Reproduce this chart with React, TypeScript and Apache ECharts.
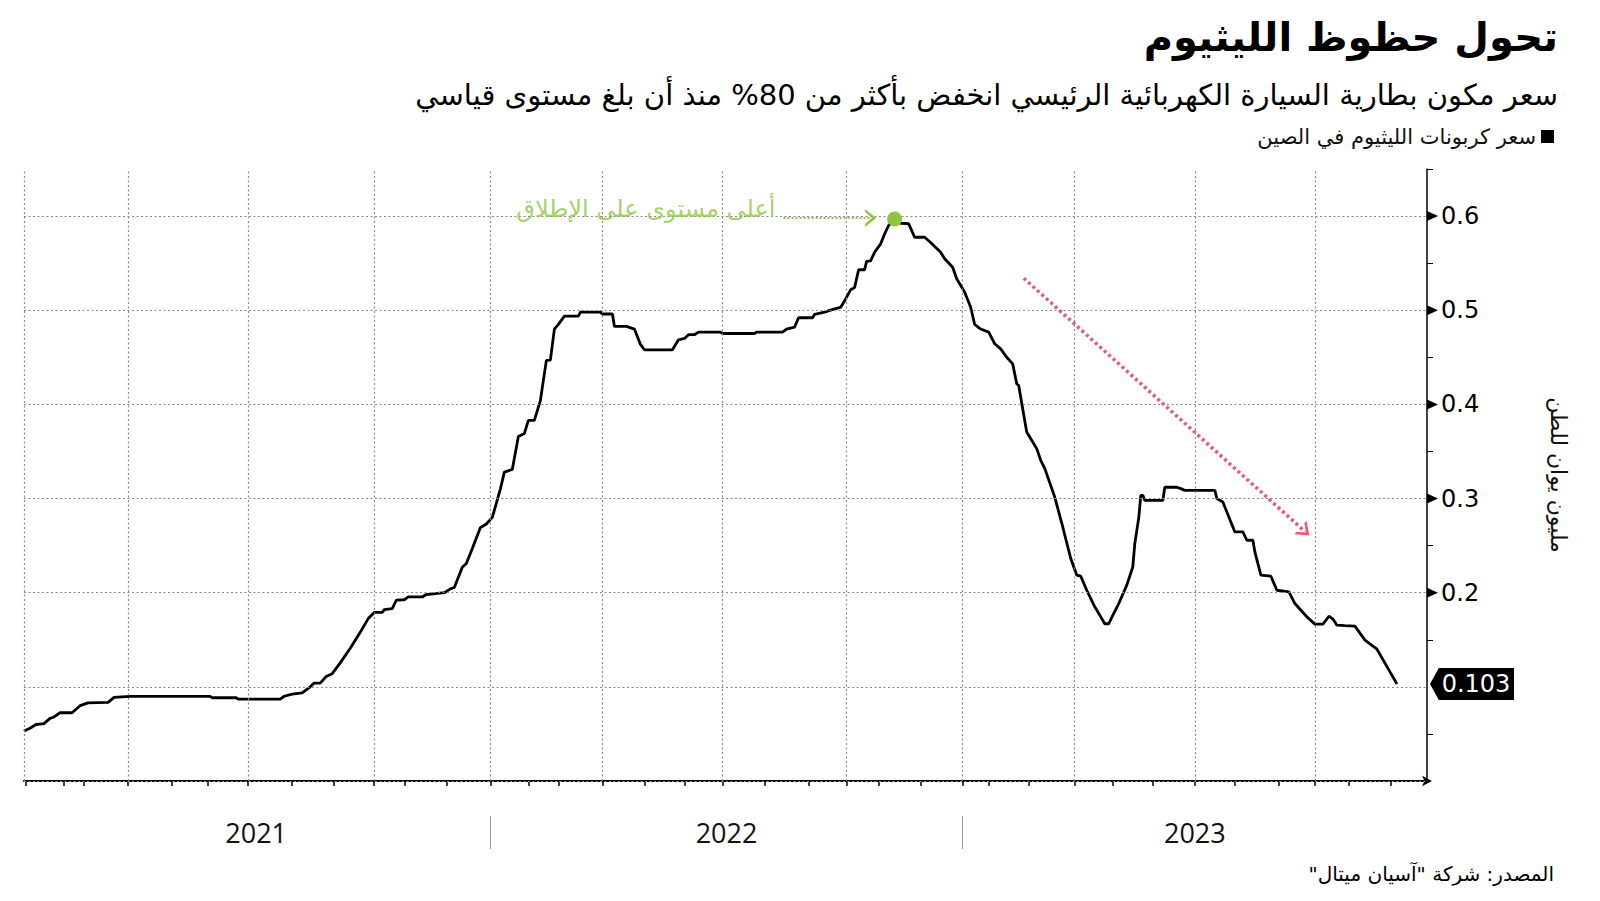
import React, { useEffect, useRef } from 'react';
import * as echarts from 'echarts';

const TITLE = 'تحول حظوظ الليثيوم';
const SUBTITLE = 'سعر مكون بطارية السيارة الكهربائية الرئيسي انخفض بأكثر من 80% منذ أن بلغ مستوى قياسي';
const SERIES_NAME = 'سعر كربونات الليثيوم في الصين';
const Y_NAME = 'مليون يوان للطن';
const SOURCE = 'المصدر: شركة "آسيان ميتال"\u200F';
const PEAK_NOTE = 'أعلى مستوى على الإطلاق';

// x = trading-session index (Jan 2021 .. Dec 2023)
const sessions = [0, 3, 6, 10, 13, 15, 18, 24, 28, 32, 42, 45, 53, 93, 94, 106, 107, 128, 130, 134, 139, 143, 145, 148, 151, 154, 158, 163, 168, 172, 175, 179, 180, 184, 186, 190, 192, 199, 201, 210, 213, 215, 219, 221, 224, 228, 231, 234, 238, 240, 244, 247, 250, 252, 255, 258, 261, 263, 265, 267, 270, 277, 278, 288, 289, 294, 295, 301, 305, 308, 310, 324, 327, 330, 332, 335, 337, 348, 349, 365, 366, 379, 381, 385, 387, 394, 395, 400, 405, 408, 410, 413, 415, 417, 420, 421, 423, 425, 428, 430, 432, 435, 438, 442, 445, 450, 453, 458, 460, 464, 466, 469, 470, 473, 475, 478, 482, 485, 488, 491, 494, 496, 497, 500, 501, 504, 506, 508, 510, 515, 519, 523, 526, 528, 531, 535, 538, 540, 542, 544, 547, 551, 554, 555, 557, 558, 559, 560, 569, 570, 576, 578, 580, 595, 596, 599, 601, 605, 609, 611, 614, 615, 618, 623, 626, 632, 635, 638, 641, 645, 649, 652, 654, 656, 660, 665, 670, 676, 682, 686];
const prices = [0.053, 0.056, 0.060, 0.061, 0.0665, 0.068, 0.0725, 0.0725, 0.080, 0.083, 0.0835, 0.0888, 0.0898, 0.0898, 0.0884, 0.0884, 0.087, 0.087, 0.090, 0.0923, 0.0937, 0.100, 0.104, 0.104, 0.111, 0.114, 0.1255, 0.141, 0.158, 0.1725, 0.179, 0.179, 0.182, 0.183, 0.192, 0.1925, 0.1955, 0.1955, 0.198, 0.200, 0.204, 0.2055, 0.227, 0.231, 0.247, 0.269, 0.273, 0.280, 0.31, 0.328, 0.331, 0.366, 0.369, 0.383, 0.383, 0.404, 0.4467, 0.447, 0.480, 0.485, 0.4937, 0.4937, 0.498, 0.498, 0.496, 0.496, 0.4828, 0.4828, 0.480, 0.4637, 0.458, 0.458, 0.4686, 0.470, 0.474, 0.474, 0.4767, 0.4767, 0.4753, 0.4753, 0.4767, 0.4767, 0.480, 0.482, 0.492, 0.492, 0.4955, 0.498, 0.5015, 0.503, 0.510, 0.5217, 0.524, 0.543, 0.543, 0.552, 0.5525, 0.5616, 0.5705, 0.581, 0.590, 0.597, 0.5924, 0.592, 0.5775, 0.5775, 0.572, 0.5616, 0.5546, 0.5457, 0.5334, 0.5228, 0.519, 0.5032, 0.4849, 0.480, 0.4767, 0.4644, 0.459, 0.450, 0.443, 0.422, 0.420, 0.383, 0.3706, 0.360, 0.353, 0.3406, 0.332, 0.3016, 0.2698, 0.2363, 0.2186, 0.2175, 0.2026, 0.185, 0.1743, 0.167, 0.167, 0.176, 0.1885, 0.208, 0.2273, 0.252, 0.280, 0.3034, 0.3034, 0.298, 0.298, 0.312, 0.312, 0.3105, 0.3087, 0.3087, 0.300, 0.2964, 0.2857, 0.2645, 0.2645, 0.2557, 0.2557, 0.2433, 0.2186, 0.2175, 0.2026, 0.2008, 0.1885, 0.1814, 0.1743, 0.1666, 0.1666, 0.175, 0.172, 0.1655, 0.165, 0.1645, 0.1496, 0.140, 0.1178, 0.103];

const monthStartSessions = [1, 20, 30, 52, 74, 92, 112, 134, 155, 175, 190, 211, 233, 252, 267, 289, 310, 330, 349, 370, 392, 411, 427, 448, 469, 482, 502, 525, 544, 564, 585, 605, 627, 645, 662, 683];
const quarterGridSessions = [0, 52, 112, 175, 233, 289, 349, 411, 469, 525, 585, 645];
const years = ['2021', '2022', '2023'];
const yearMidSessions = [116, 351, 585];
const yearBoundarySessions = [233, 469];
const X_MAX = 701;
const Y_MAX = 0.65;
const yLabelValues = [0.2, 0.3, 0.4, 0.5, 0.6];
const yGridValues = [0, 0.1, 0.2, 0.3, 0.4, 0.5, 0.6];
const yMinorTickValues = [0.05, 0.15, 0.25, 0.35, 0.45, 0.55, 0.65];
const yArrowTickValues = [0.2, 0.3, 0.4, 0.5, 0.6];

const peakSession = 435;
const peakValue = 0.597;
const peakArrowFrom = [379.5, 0.598];
const peakArrowTo = [423, 0.598];
const trendArrowFrom = [499.5, 0.534];
const trendArrowTo = [640, 0.265];

const AR = "'DejaVu Sans', sans-serif";
const GREEN = '#8cc63f';
const PINK = '#f0567a';
const CHEVRON = 'path://M0,12 L10,0 L20,12 L16.5,12 L10,4.5 L3.5,12 Z';

export default function App() {
  const ref = useRef<HTMLDivElement>(null);
  useEffect(() => {
    if (!ref.current) return;
    const chart = echarts.init(ref.current, undefined, { renderer: 'svg' });
    const lineData = sessions.map((s, i) => [s, prices[i]]);
    const lastValue = prices[prices.length - 1];
    const option: any = {
      animation: false,
      backgroundColor: '#ffffff',
      title: [
        { text: TITLE, right: 42, top: 17, padding: 0, textStyle: { fontFamily: AR, fontSize: 40, fontWeight: 'bold', color: '#000' } },
        { text: SUBTITLE, right: 42, top: 80, padding: 0, textStyle: { fontFamily: AR, fontSize: 29, fontWeight: 'normal', color: '#000' } },
        { text: SOURCE, right: 46, top: 864, padding: 0, textStyle: { fontFamily: AR, fontSize: 20, fontWeight: 'normal', color: '#000' } },
      ],
      legend: {
        data: [SERIES_NAME], right: 46, top: 126, padding: 0, align: 'right', icon: 'rect', itemWidth: 13, itemHeight: 13,
        textStyle: { fontFamily: AR, fontSize: 21, color: '#111' }, selectedMode: false,
      },
      grid: { left: 24, right: 173, top: 169, bottom: 120, containLabel: false, outerBoundsMode: 'none' },
      xAxis: [
        {
          type: 'value', min: 0, max: X_MAX, position: 'bottom',
          axisLine: { show: true, onZero: false, lineStyle: { color: '#000', width: 2 }, symbol: ['none', 'arrow'], symbolSize: [8, 10], symbolOffset: [0, 5] },
          axisTick: { show: true, customValues: monthStartSessions, length: 5, lineStyle: { color: '#000', width: 1.5 } },
          axisLabel: {
            show: true, customValues: yearMidSessions, margin: 38, fontSize: 27, fontFamily: "'Open Sans', sans-serif", color: '#111',
            formatter: (v: number) => { const i = yearMidSessions.indexOf(v); return i >= 0 ? years[i] : ''; },
          },
          splitLine: { show: false },
        },
        {
          type: 'value', min: 0, max: X_MAX, position: 'bottom', offset: 35,
          axisLine: { show: false, onZero: false },
          axisTick: { show: true, customValues: yearBoundarySessions, length: 33, lineStyle: { color: '#999', width: 1 } },
          axisLabel: { show: false },
          splitLine: { show: false },
        },
      ],
      yAxis: {
        type: 'value', position: 'right', min: 0, max: Y_MAX, interval: 0.1,
        name: Y_NAME, nameLocation: 'middle', nameRotate: -90, nameGap: 120,
        nameTextStyle: { fontFamily: AR, fontSize: 22, color: '#111' },
        axisLine: { show: true, onZero: false, lineStyle: { color: '#000', width: 1.5 } },
        axisTick: { show: true, customValues: yMinorTickValues, length: 6, lineStyle: { color: '#000', width: 1 } },
        axisLabel: {
          show: true, customValues: yLabelValues, margin: 14, fontSize: 24, fontFamily: "'DejaVu Sans', sans-serif", color: '#000',
          formatter: (v: number) => v.toFixed(1),
        },
        splitLine: { show: false },
      },
      series: [
        {
          name: 'grid', type: 'line', data: [], silent: true, z: 1,
          markLine: {
            silent: true, symbol: ['none', 'none'], label: { show: false },
            lineStyle: { color: '#8a8a8a', width: 1.2, type: [2, 2.5] },
            data: [
              ...quarterGridSessions.map((s) => ({ xAxis: s })),
              ...yGridValues.map((v) => ({ yAxis: v })),
            ],
          },
        },
        {
          name: SERIES_NAME, type: 'line', data: lineData, showSymbol: false, symbol: 'none',
          lineStyle: { color: '#000', width: 2.8 }, itemStyle: { color: '#000' }, z: 3,
        },
        {
          name: 'peakArrow', type: 'line', data: [], silent: true, z: 4,
          markLine: {
            silent: true, symbol: ['none', CHEVRON], symbolSize: [18, 11], label: { show: false },
            lineStyle: { color: GREEN, width: 2, type: [2, 2] },
            data: [[{ coord: peakArrowFrom }, { coord: peakArrowTo }]],
          },
        },
        {
          name: 'trendArrow', type: 'line', data: [], silent: true, z: 4,
          markLine: {
            silent: true, symbol: ['none', CHEVRON], symbolSize: [18, 12], label: { show: false },
            lineStyle: { color: PINK, width: 3.5, type: [3, 3] },
            data: [[{ coord: trendArrowFrom }, { coord: trendArrowTo }]],
          },
        },
        {
          name: 'peak', type: 'scatter', data: [[peakSession, peakValue]], symbolSize: 15,
          itemStyle: { color: GREEN, opacity: 1 }, z: 5, silent: true,
        },
        {
          name: 'peakNote', type: 'scatter', data: [peakArrowFrom], symbolSize: 0.1,
          itemStyle: { color: 'rgba(0,0,0,0)' }, z: 5, silent: true,
          label: { show: true, position: 'left', distance: 8, formatter: PEAK_NOTE, color: GREEN, fontSize: 24, fontFamily: AR, offset: [0, -9] },
        },
        {
          name: 'yTickMarks', type: 'scatter', data: yArrowTickValues.map((v) => [X_MAX, v]),
          symbol: 'triangle', symbolSize: [10, 11], symbolRotate: -90, symbolOffset: [5.5, 0],
          itemStyle: { color: '#000', opacity: 1 }, clip: false, silent: true, z: 5,
        },
        {
          name: 'endTag', type: 'scatter', data: [[X_MAX, lastValue]],
          symbol: 'path://M0,10 L9,0 L86,0 L86,20 L9,20 Z', symbolSize: [84, 32], symbolKeepAspect: false, symbolOffset: [45, 0],
          itemStyle: { color: '#000', opacity: 1 }, clip: false, silent: true, z: 6,
          label: { show: true, position: 'inside', formatter: lastValue.toFixed(3), color: '#fff', fontSize: 24, fontFamily: "'DejaVu Sans', sans-serif", offset: [4, 0] },
        },
      ],
    };
    chart.setOption(option);
    return () => chart.dispose();
  }, []);
  return <div ref={ref} style={{ position: 'absolute', left: 0, top: 0, width: 1600, height: 901, background: '#fff' }} />;
}
